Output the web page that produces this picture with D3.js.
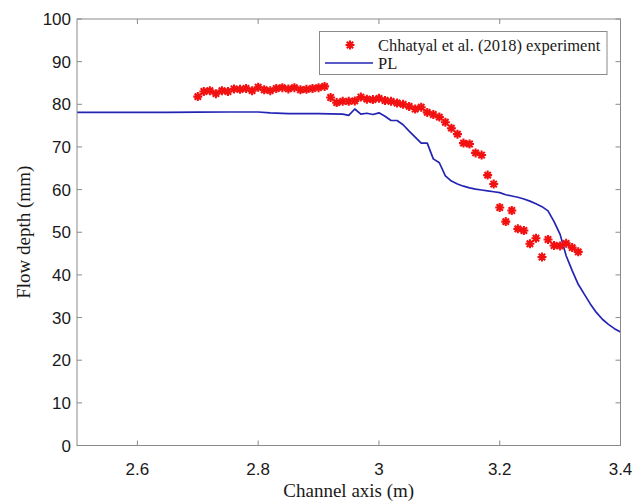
<!DOCTYPE html>
<html>
<head>
<meta charset="utf-8">
<script src="https://cdn.jsdelivr.net/npm/d3@7"></script>
<style>
  body { margin: 0; background: #fff; }
  svg { display: block; }
</style>
</head>
<body>
<svg id="chart"></svg>
<script>
const width = 644,
    height = 501;
const margin = { top: 19, right: 23.5, bottom: 55.5, left: 77 };

// experiment (red stars)
const expX = [2.70, 2.71, 2.72, 2.73, 2.74, 2.75, 2.76, 2.77, 2.78, 2.79, 2.80, 2.81, 2.82, 2.83, 2.84, 2.85,
    2.86, 2.87, 2.88, 2.89, 2.90, 2.91, 2.92, 2.93, 2.94, 2.95, 2.96, 2.97, 2.98, 2.99, 3.00, 3.01, 3.02,
    3.03, 3.04, 3.05, 3.06, 3.07, 3.08, 3.09, 3.10, 3.11, 3.12, 3.13, 3.14, 3.15, 3.16, 3.17, 3.18, 3.19,
    3.20, 3.21, 3.22, 3.23, 3.24, 3.25, 3.26, 3.27, 3.28, 3.29, 3.30, 3.31, 3.32, 3.33];
const expY = [81.8, 83.0, 83.2, 82.5, 83.2, 83.0, 83.6, 83.5, 83.7, 83.2, 84.0, 83.4, 83.2, 83.7, 83.9, 83.6,
    83.9, 83.4, 83.5, 83.7, 83.9, 84.2, 81.6, 80.4, 80.7, 80.7, 80.8, 81.7, 81.2, 81.1, 81.4, 80.9, 80.7,
    80.3, 80.0, 79.5, 78.9, 79.3, 78.1, 77.6, 77.0, 75.8, 74.4, 73.0, 70.9, 70.7, 68.6, 68.1, 63.4, 61.3,
    55.8, 52.5, 55.1, 50.8, 50.4, 47.3, 48.6, 44.2, 48.3, 46.9, 46.8, 47.4, 46.4, 45.4];

// PL model (blue line)
const plX = [2.50, 2.55, 2.60, 2.65, 2.70, 2.75, 2.80, 2.82, 2.85, 2.90, 2.94, 2.95, 2.96, 2.97, 2.98, 2.99,
    3.00, 3.01, 3.02, 3.03, 3.04, 3.05, 3.06, 3.07, 3.08, 3.09, 3.10, 3.11, 3.12, 3.13, 3.14, 3.15, 3.16,
    3.17, 3.18, 3.19, 3.20, 3.21, 3.22, 3.23, 3.24, 3.25, 3.26, 3.27, 3.28, 3.29, 3.30, 3.31, 3.32, 3.33,
    3.34, 3.35, 3.36, 3.37, 3.38, 3.39, 3.40];
const plY = [78.1, 78.1, 78.1, 78.1, 78.15, 78.2, 78.2, 78.0, 77.8, 77.8, 77.7, 77.4, 78.9, 77.7, 77.9, 77.6,
    78.0, 77.2, 76.2, 76.2, 75.2, 73.7, 72.3, 70.9, 70.9, 67.2, 66.3, 63.2, 62.0, 61.3, 60.8, 60.4, 60.1,
    59.9, 59.7, 59.5, 59.3, 58.8, 58.5, 58.2, 57.8, 57.3, 56.7, 56.0, 55.0, 52.5, 49.5, 44.5, 41.0, 37.8,
    35.5, 33.2, 31.2, 29.6, 28.4, 27.4, 26.6];

const xTicks = [2.6, 2.8, 3.0, 3.2, 3.4];
const yTicks = [0, 10, 20, 30, 40, 50, 60, 70, 80, 90, 100];
const legendLabels = ["Chhatyal et al. (2018) experiment", "PL"];

const axisGray = "#8a8a8a";
const starRed = "#f21010";
const lineBlue = "#2424b4";

const svg = d3.select("svg#chart")
    .attr("width", width)
    .attr("height", height);

const x = d3.scaleLinear()
    .domain([2.5, 3.4])
    .range([margin.left, width - margin.right]);
const y = d3.scaleLinear()
    .domain([0, 100])
    .range([height - margin.bottom, margin.top]);

const x0 = x.range()[0], x1 = x.range()[1];
const y0 = y.range()[0], y1 = y.range()[1];

// inward ticks on all four sides (matlab box)
const tickLen = 5;
const ticks = svg.append("g")
    .attr("stroke", axisGray)
    .attr("stroke-width", 1);
xTicks.forEach(t => {
    ticks.append("line").attr("x1", x(t)).attr("x2", x(t)).attr("y1", y0).attr("y2", y0 - tickLen);
    ticks.append("line").attr("x1", x(t)).attr("x2", x(t)).attr("y1", y1).attr("y2", y1 + tickLen);
});
yTicks.forEach(t => {
    ticks.append("line").attr("x1", x0).attr("x2", x0 + tickLen).attr("y1", y(t)).attr("y2", y(t));
    ticks.append("line").attr("x1", x1).attr("x2", x1 - tickLen).attr("y1", y(t)).attr("y2", y(t));
});

// tick labels
const fmt = d => (d === 3 ? "3" : d3.format(".1f")(d));
svg.append("g")
    .selectAll("text")
    .data(xTicks)
    .enter()
    .append("text")
    .attr("x", d => x(d))
    .attr("y", y0 + 29)
    .attr("text-anchor", "middle")
    .attr("font-family", "Liberation Sans, Arial, sans-serif")
    .attr("font-size", 17)
    .attr("fill", "#1a1a1a")
    .text(fmt);
svg.append("g")
    .selectAll("text")
    .data(yTicks)
    .enter()
    .append("text")
    .attr("x", x0 - 6)
    .attr("y", d => y(d))
    .attr("dy", "0.36em")
    .attr("text-anchor", "end")
    .attr("font-family", "Liberation Sans, Arial, sans-serif")
    .attr("font-size", 17)
    .attr("fill", "#1a1a1a")
    .text(d => d);

// axis titles
svg.append("text")
    .attr("x", (x0 + x1) / 2)
    .attr("y", height - 4)
    .attr("text-anchor", "middle")
    .attr("font-family", "Liberation Serif, Times New Roman, serif")
    .attr("font-size", 19)
    .attr("fill", "#1a1a1a")
    .text("Channel axis (m)");
svg.append("text")
    .attr("transform", `translate(30,${(y0 + y1) / 2}) rotate(-90)`)
    .attr("text-anchor", "middle")
    .attr("font-family", "Liberation Serif, Times New Roman, serif")
    .attr("font-size", 19)
    .attr("fill", "#1a1a1a")
    .text("Flow depth (mm)");

// PL line
const line = d3.line()
    .x(d => x(d[0]))
    .y(d => y(d[1]));
svg.append("path")
    .datum(d3.zip(plX, plY))
    .attr("fill", "none")
    .attr("stroke", lineBlue)
    .attr("stroke-width", 1.7)
    .attr("stroke-linejoin", "round")
    .attr("d", line);

// star marker: 4 strokes, 8 arms
const starR = 4.5;
function starPath(r) {
    const d = r * Math.SQRT1_2;
    return `M${-r},0L${r},0M0,${-r}L0,${r}M${-d},${-d}L${d},${d}M${-d},${d}L${d},${-d}`;
}
svg.append("g")
    .selectAll("path")
    .data(d3.zip(expX, expY))
    .enter()
    .append("path")
    .attr("transform", d => `translate(${x(d[0])},${y(d[1])})`)
    .attr("d", starPath(starR))
    .attr("stroke", starRed)
    .attr("stroke-width", 2.1)
    .attr("fill", "none");

// box
svg.append("rect")
    .attr("x", x0)
    .attr("y", y1)
    .attr("width", x1 - x0)
    .attr("height", y0 - y1)
    .attr("fill", "none")
    .attr("stroke", axisGray)
    .attr("stroke-width", 1);

// legend
const legend = svg.append("g");
legend.append("rect")
    .attr("x", 319.5)
    .attr("y", 31.5)
    .attr("width", 287.5)
    .attr("height", 43)
    .attr("fill", "#fff")
    .attr("stroke", axisGray)
    .attr("stroke-width", 1);
legend.append("path")
    .attr("transform", "translate(350,45)")
    .attr("d", starPath(starR))
    .attr("stroke", starRed)
    .attr("stroke-width", 2.1);
legend.append("line")
    .attr("x1", 325).attr("x2", 373)
    .attr("y1", 63).attr("y2", 63)
    .attr("stroke", lineBlue)
    .attr("stroke-width", 1.7);
legend.selectAll("text")
    .data(legendLabels)
    .enter()
    .append("text")
    .attr("x", 378)
    .attr("y", (d, i) => 45 + i * 18)
    .attr("dy", "0.35em")
    .attr("font-family", "Liberation Serif, Times New Roman, serif")
    .attr("font-size", 16.5)
    .attr("fill", "#1a1a1a")
    .text(d => d);
</script>
</body>
</html>
